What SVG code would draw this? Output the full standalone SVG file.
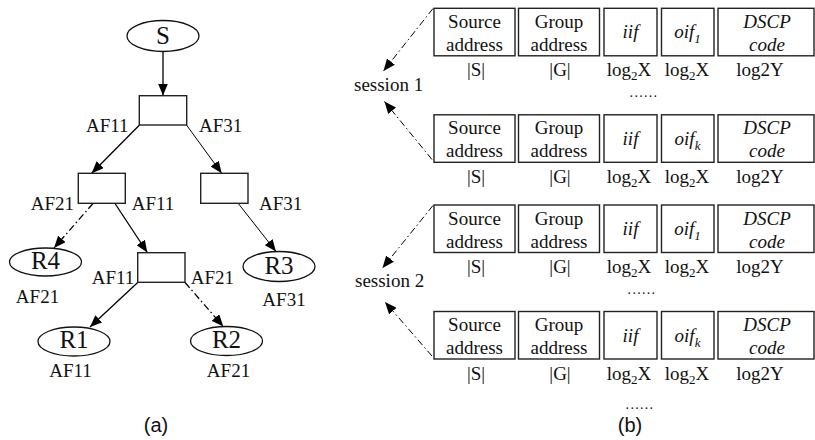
<svg xmlns="http://www.w3.org/2000/svg" width="815" height="440" viewBox="0 0 815 440">
<style>
.t{font-family:"Liberation Serif","Times New Roman",serif;font-size:19px;fill:#111}
.m{text-anchor:middle}
.i{font-style:italic}
.big{font-size:25px}
.sub{font-size:13px}
.dots{font-size:14px;letter-spacing:1.3px}
.cap{font-family:"Liberation Sans",Arial,sans-serif;font-size:20px;fill:#111;text-anchor:middle}
.box{fill:#fff;stroke:#222;stroke-width:1.4}
.ell{fill:#fff;stroke:#111;stroke-width:1.3}
.ln{fill:none;stroke:#000;stroke-width:1.3;marker-end:url(#ah)}
.thin{stroke-width:1}
.dd{stroke-dasharray:7,3,1.5,3}
</style>
<defs>
<marker id="ah" viewBox="0 0 12 10" refX="12" refY="5" markerWidth="12" markerHeight="10" markerUnits="userSpaceOnUse" orient="auto">
<path d="M0,0 L12,5 L0,10 z" fill="#000"/>
</marker>
</defs>

<!-- (a) tree -->
<g id="connectors-a">
<line class="ln" x1="163" y1="52" x2="163" y2="95.5"/>
<line class="ln" x1="139.5" y1="125" x2="91.7" y2="173.3"/>
<line class="ln thin" x1="186.5" y1="125" x2="221.7" y2="173.3"/>
<line class="ln dd" x1="93" y1="203.5" x2="54" y2="248"/>
<line class="ln" x1="115" y1="203.5" x2="147.3" y2="252.5"/>
<line class="ln thin" x1="238.3" y1="203.5" x2="276" y2="251.5"/>
<line class="ln" x1="137.7" y1="282.5" x2="90" y2="327"/>
<line class="ln dd" x1="185" y1="282.5" x2="223.3" y2="326.5"/>
</g>

<g id="nodeS">
<ellipse class="ell" cx="163" cy="36" rx="36" ry="15.5"/>
<text class="t big m" x="163" y="43.5">S</text>
</g>
<g id="router1">
<rect class="box" x="139.3" y="95.7" width="47.4" height="29.3"/>
<text class="t" x="86" y="132">AF11</text>
<text class="t" x="199" y="132">AF31</text>
</g>
<g id="router2">
<rect class="box" x="78.3" y="173.3" width="47" height="30"/>
<text class="t" x="30.7" y="210">AF21</text>
<text class="t" x="131.7" y="210">AF11</text>
</g>
<g id="router3">
<rect class="box" x="200.7" y="173.3" width="47.3" height="30"/>
<text class="t" x="259" y="210">AF31</text>
</g>
<g id="router4">
<rect class="box" x="137.7" y="252.7" width="47.3" height="29.6"/>
<text class="t" x="91.7" y="284">AF11</text>
<text class="t" x="190.7" y="284">AF21</text>
</g>
<g id="nodeR4">
<ellipse class="ell" cx="45.5" cy="262" rx="36" ry="14"/>
<text class="t big m" x="45.5" y="269">R4</text>
<text class="t m" x="37.5" y="303">AF21</text>
</g>
<g id="nodeR3">
<ellipse class="ell" cx="279" cy="266.5" rx="36" ry="15"/>
<text class="t big m" x="279" y="273.5">R3</text>
<text class="t m" x="284" y="305.5">AF31</text>
</g>
<g id="nodeR1">
<ellipse class="ell" cx="74" cy="341.5" rx="36" ry="14.5"/>
<text class="t big m" x="74" y="348">R1</text>
<text class="t m" x="70.5" y="376.5">AF11</text>
</g>
<g id="nodeR2">
<ellipse class="ell" cx="226.5" cy="341" rx="36" ry="14.5"/>
<text class="t big m" x="226.5" y="347.5">R2</text>
<text class="t m" x="228.5" y="376.5">AF21</text>
</g>
<text class="cap" x="156" y="432">(a)</text>

<!-- (b) table -->
<g id="connectors-b">
<line class="ln dd thin" x1="433" y1="8.5" x2="383.5" y2="71"/>
<line class="ln dd thin" x1="432" y1="159.5" x2="384.5" y2="101.5"/>
<line class="ln dd thin" x1="433" y1="205.5" x2="382.5" y2="268"/>
<line class="ln dd thin" x1="432" y1="356" x2="385" y2="302"/>
</g>
<g id="session1"><text class="t" x="354" y="90.5">session 1</text></g>
<g id="session2"><text class="t" x="355" y="287">session 2</text></g>

<g id="entry1a" transform="translate(0,8.3)">
<rect class="box" x="434" y="0" width="81" height="47.5"/>
<rect class="box" x="518.5" y="0" width="81" height="47.5"/>
<rect class="box" x="604" y="0" width="53" height="47.5"/>
<rect class="box" x="661.5" y="0" width="52.5" height="47.5"/>
<rect class="box" x="718" y="0" width="96" height="47.5"/>
<text class="t m" x="474.5" y="19.5">Source</text><text class="t m" x="474.5" y="42.5">address</text>
<text class="t m" x="559" y="19.5">Group</text><text class="t m" x="559" y="42.5">address</text>
<text class="t m i" x="630.5" y="30">iif</text>
<text class="t m i" x="687.5" y="30">oif<tspan class="sub" dy="5">1</tspan></text>
<text class="t m i" x="767" y="19.5">DSCP</text><text class="t m i" x="767" y="42.5">code</text>
<text class="t m" x="476" y="68">|S|</text>
<text class="t m" x="560" y="68">|G|</text>
<text class="t m" x="629" y="68">log<tspan class="sub" dy="4">2</tspan><tspan dy="-4">X</tspan></text>
<text class="t m" x="687" y="68">log<tspan class="sub" dy="4">2</tspan><tspan dy="-4">X</tspan></text>
<text class="t m" x="760" y="68">log2Y</text>
</g>
<text class="t m dots" x="644" y="97">......</text>
<g id="entry1b" transform="translate(0,114.8)">
<rect class="box" x="434" y="0" width="81" height="47.5"/>
<rect class="box" x="518.5" y="0" width="81" height="47.5"/>
<rect class="box" x="604" y="0" width="53" height="47.5"/>
<rect class="box" x="661.5" y="0" width="52.5" height="47.5"/>
<rect class="box" x="718" y="0" width="96" height="47.5"/>
<text class="t m" x="474.5" y="19.5">Source</text><text class="t m" x="474.5" y="42.5">address</text>
<text class="t m" x="559" y="19.5">Group</text><text class="t m" x="559" y="42.5">address</text>
<text class="t m i" x="630.5" y="30">iif</text>
<text class="t m i" x="687.5" y="30">oif<tspan class="sub" dy="5">k</tspan></text>
<text class="t m i" x="767" y="19.5">DSCP</text><text class="t m i" x="767" y="42.5">code</text>
<text class="t m" x="476" y="68">|S|</text>
<text class="t m" x="560" y="68">|G|</text>
<text class="t m" x="629" y="68">log<tspan class="sub" dy="4">2</tspan><tspan dy="-4">X</tspan></text>
<text class="t m" x="687" y="68">log<tspan class="sub" dy="4">2</tspan><tspan dy="-4">X</tspan></text>
<text class="t m" x="760" y="68">log2Y</text>
</g>

<g id="entry2a" transform="translate(0,205)">
<rect class="box" x="434" y="0" width="81" height="47.5"/>
<rect class="box" x="518.5" y="0" width="81" height="47.5"/>
<rect class="box" x="604" y="0" width="53" height="47.5"/>
<rect class="box" x="661.5" y="0" width="52.5" height="47.5"/>
<rect class="box" x="718" y="0" width="96" height="47.5"/>
<text class="t m" x="474.5" y="19.5">Source</text><text class="t m" x="474.5" y="42.5">address</text>
<text class="t m" x="559" y="19.5">Group</text><text class="t m" x="559" y="42.5">address</text>
<text class="t m i" x="630.5" y="30">iif</text>
<text class="t m i" x="687.5" y="30">oif<tspan class="sub" dy="5">1</tspan></text>
<text class="t m i" x="767" y="19.5">DSCP</text><text class="t m i" x="767" y="42.5">code</text>
<text class="t m" x="476" y="68">|S|</text>
<text class="t m" x="560" y="68">|G|</text>
<text class="t m" x="629" y="68">log<tspan class="sub" dy="4">2</tspan><tspan dy="-4">X</tspan></text>
<text class="t m" x="687" y="68">log<tspan class="sub" dy="4">2</tspan><tspan dy="-4">X</tspan></text>
<text class="t m" x="760" y="68">log2Y</text>
</g>
<text class="t m dots" x="642" y="294">......</text>
<g id="entry2b" transform="translate(0,311.5)">
<rect class="box" x="434" y="0" width="81" height="47.5"/>
<rect class="box" x="518.5" y="0" width="81" height="47.5"/>
<rect class="box" x="604" y="0" width="53" height="47.5"/>
<rect class="box" x="661.5" y="0" width="52.5" height="47.5"/>
<rect class="box" x="718" y="0" width="96" height="47.5"/>
<text class="t m" x="474.5" y="19.5">Source</text><text class="t m" x="474.5" y="42.5">address</text>
<text class="t m" x="559" y="19.5">Group</text><text class="t m" x="559" y="42.5">address</text>
<text class="t m i" x="630.5" y="30">iif</text>
<text class="t m i" x="687.5" y="30">oif<tspan class="sub" dy="5">k</tspan></text>
<text class="t m i" x="767" y="19.5">DSCP</text><text class="t m i" x="767" y="42.5">code</text>
<text class="t m" x="476" y="68">|S|</text>
<text class="t m" x="560" y="68">|G|</text>
<text class="t m" x="629" y="68">log<tspan class="sub" dy="4">2</tspan><tspan dy="-4">X</tspan></text>
<text class="t m" x="687" y="68">log<tspan class="sub" dy="4">2</tspan><tspan dy="-4">X</tspan></text>
<text class="t m" x="760" y="68">log2Y</text>
</g>
<text class="t m dots" x="640" y="409">......</text>
<text class="cap" x="630" y="432">(b)</text>
</svg>
